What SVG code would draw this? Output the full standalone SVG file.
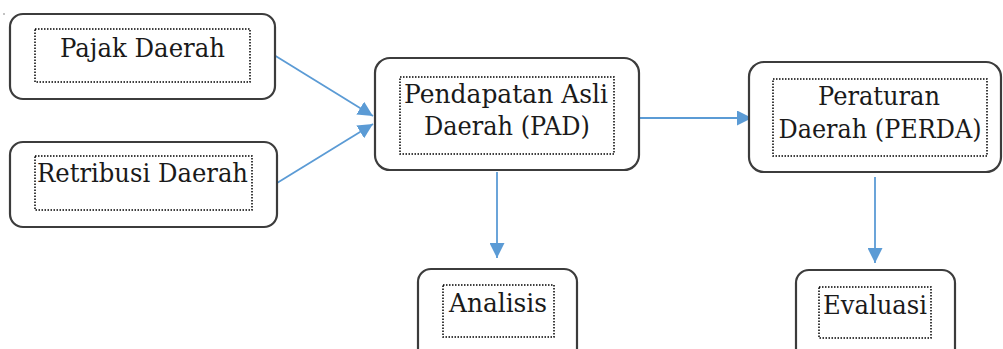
<svg xmlns="http://www.w3.org/2000/svg" width="1003" height="349" viewBox="0 0 1003 349">
<style>
.box{fill:#fff;stroke:#3c3c3c;stroke-width:2.2}
.inner{fill:none;stroke:#000;stroke-width:1.5;stroke-dasharray:1.5 1.5}
.lbl{font-family:"DejaVu Serif","Liberation Serif",serif;font-size:26px;fill:#1a1a1a;text-anchor:middle}
.conn{stroke:#5b9bd5;stroke-width:1.8;fill:none}
</style>
<defs>
<marker id="ahb" viewBox="0 0 10 10" refX="10" refY="5" markerWidth="15" markerHeight="15" markerUnits="userSpaceOnUse" orient="auto">
<path d="M0,0 L10,5 L0,10 z" fill="#5b9bd5"/>
</marker>
</defs>
<rect width="1003" height="349" fill="#fff"/>
<circle cx="4" cy="14" r="0.8" fill="#777"/>
<g id="connectors">
<line class="conn" x1="274" y1="55" x2="373" y2="116" marker-end="url(#ahb)"/>
<line class="conn" x1="277" y1="183" x2="373" y2="124" marker-end="url(#ahb)"/>
<line class="conn" x1="640" y1="118" x2="752" y2="118" marker-end="url(#ahb)"/>
<line class="conn" x1="497" y1="172" x2="497" y2="258" marker-end="url(#ahb)"/>
<line class="conn" x1="875" y1="177" x2="875" y2="263" marker-end="url(#ahb)"/>
</g>
<g id="pajak">
<rect class="box" x="10" y="14" width="265" height="85" rx="13"/>
<rect class="inner" x="35" y="29" width="215" height="53"/>
<text class="lbl" x="142.5" y="57" textLength="165" lengthAdjust="spacingAndGlyphs">Pajak Daerah</text>
</g>
<g id="retribusi">
<rect class="box" x="10" y="142" width="267" height="85" rx="13"/>
<rect class="inner" x="35" y="156" width="217" height="54"/>
<text class="lbl" x="142.5" y="182" textLength="211" lengthAdjust="spacingAndGlyphs">Retribusi Daerah</text>
</g>
<g id="pad">
<rect class="box" x="375" y="58" width="264" height="112" rx="15"/>
<rect class="inner" x="400" y="77" width="214" height="77"/>
<text class="lbl" x="506" y="103" textLength="204" lengthAdjust="spacingAndGlyphs">Pendapatan Asli</text>
<text class="lbl" x="507" y="135" textLength="166" lengthAdjust="spacingAndGlyphs">Daerah (PAD)</text>
</g>
<g id="perda">
<rect class="box" x="749" y="62" width="252" height="110" rx="15"/>
<rect class="inner" x="773" y="79" width="214" height="77"/>
<text class="lbl" x="879" y="105" textLength="122" lengthAdjust="spacingAndGlyphs">Peraturan</text>
<text class="lbl" x="880" y="138" textLength="203" lengthAdjust="spacingAndGlyphs">Daerah (PERDA)</text>
</g>
<g id="analisis">
<rect class="box" x="418" y="269" width="159" height="95" rx="13"/>
<rect class="inner" x="443" y="285" width="111" height="52"/>
<text class="lbl" x="498" y="312" textLength="98" lengthAdjust="spacingAndGlyphs">Analisis</text>
</g>
<g id="evaluasi">
<rect class="box" x="796" y="270" width="159" height="95" rx="13"/>
<rect class="inner" x="819" y="287" width="112" height="51"/>
<text class="lbl" x="875" y="314" textLength="104" lengthAdjust="spacingAndGlyphs">Evaluasi</text>
</g>
</svg>
